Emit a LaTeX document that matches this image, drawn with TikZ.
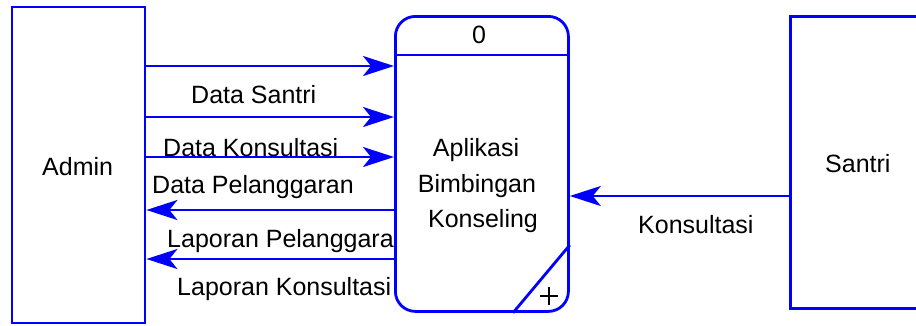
\documentclass[tikz,border=0pt]{standalone}
\usepackage{fontspec}
\setmainfont{Liberation Sans}
\usetikzlibrary{arrows.meta}
\definecolor{dfdblue}{RGB}{0,0,255}
\begin{document}
\begin{tikzpicture}[x=1pt,y=-1pt,
  lbl/.style={font=\fontsize{25}{30}\selectfont, inner sep=0pt, anchor=base west},
  ent/.style={draw=dfdblue, line width=2.8pt, fill=white, inner sep=0pt},
  flow/.style={draw=dfdblue, line width=2.8pt, -{Stealth[length=31pt,width=20pt,inset=8pt]}}
]
\clip (0,0) rectangle (916,325);
\fill[white] (0,0) rectangle (916,325);
% flow labels (drawn first, the process box covers their overflow)
\node[lbl] (l1) at (191,103) {Data Santri};
\node[lbl] (l2) at (163,156) {Data Konsultasi};
\node[lbl] (l3) at (152,193) {Data Pelanggaran};
\node[lbl] (l4) at (167,247) {Laporan Pelanggaran};
\node[lbl] (l5) at (177,295) {Laporan Konsultasi};
\node[lbl] (l6) at (638,233) {Konsultasi};
% entities
\node[ent, minimum width=133pt, minimum height=316pt] (admin) at (78.5,165) {};
\node[lbl] (admintxt) at (42,175) {Admin};
\node[ent, minimum width=150pt, minimum height=292pt, anchor=north west] (santri) at (789,15) {};
\node[lbl] (santritxt) at (825,172) {Santri};
% process
\node[ent, rounded corners=20pt, minimum width=173pt, minimum height=295pt, anchor=north west] (proc) at (394,15) {};
\draw[dfdblue, line width=2.8pt] (proc.west |- 0,55) -- (proc.east |- 0,55);
\draw[dfdblue, line width=2.8pt] (proc.east |- 0,245) -- (proc.south -| 513,0);
\draw[line width=1.2pt] (540,296) -- (558,296) (549,287) -- (549,305);
\node[lbl, anchor=base] (pid) at (479,43) {0};
\node[lbl, anchor=base] (p1) at (476,156) {Aplikasi};
\node[lbl, anchor=base] (p2) at (477,192) {Bimbingan};
\node[lbl, anchor=base] (p3) at (483,227) {Konseling};
% flows
\draw[flow] (admin.east |- 0,66) -- (proc.west |- 0,66);
\draw[flow] (admin.east |- 0,117) -- (proc.west |- 0,117);
\draw[flow] (admin.east |- 0,157) -- (proc.west |- 0,157);
\draw[flow] (proc.west |- 0,210) -- (admin.east |- 0,210);
\draw[flow] (proc.west |- 0,259) -- (admin.east |- 0,259);
\draw[flow] (santri.west |- 0,196) -- (proc.east |- 0,196);
\end{tikzpicture}
\end{document}
